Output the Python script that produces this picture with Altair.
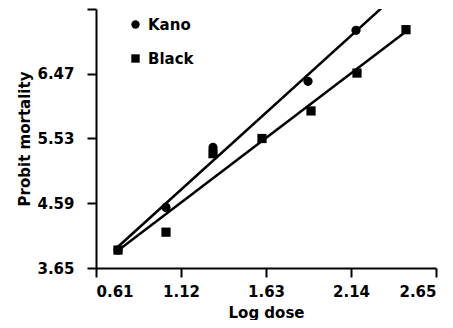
import altair as alt
import pandas as pd

kano_x = [0.742, 1.03, 1.312, 1.882, 2.17]
kano_y = [3.91, 4.53, 5.40, 6.36, 7.10]
black_x = [0.742, 1.03, 1.312, 1.606, 1.90, 2.176, 2.47]
black_y = [3.91, 4.17, 5.31, 5.53, 5.93, 6.48, 7.11]
series = ["Kano", "Black"]
x_ticks = [0.61, 1.12, 1.63, 2.14, 2.65]
y_ticks = [3.65, 4.59, 5.53, 6.47, 7.41]

df = pd.concat([
    pd.DataFrame({"x": kano_x, "y": kano_y, "s": "Kano"}),
    pd.DataFrame({"x": black_x, "y": black_y, "s": "Black"}),
])

FONT = "DejaVu Sans"
FS = 15

xs = alt.Scale(domain=[x_ticks[0], x_ticks[-1]], nice=False, zero=False)
ys = alt.Scale(domain=[y_ticks[0], y_ticks[-1]], nice=False, zero=False)

x_enc = alt.X("x:Q", scale=xs, title="Log dose",
              axis=alt.Axis(values=x_ticks, format=".2f", grid=False))
y_enc = alt.Y("y:Q", scale=ys, title="Probit mortality",
              axis=alt.Axis(values=y_ticks, format=".2f", grid=False,
                            labelExpr="datum.value > 7.4 ? '' : format(datum.value, '.2f')"))

shape = alt.Shape("s:N", scale=alt.Scale(domain=series, range=["circle", "square"]),
                  legend=alt.Legend(title=None, orient="none", legendX=32, legendY=8,
                                    symbolFillColor="black", symbolStrokeColor="black",
                                    symbolSize=70, symbolStrokeWidth=0,
                                    labelFont=FONT, labelFontSize=FS, labelFontWeight="bold",
                                    labelColor="black", rowPadding=18, labelOffset=5))

points = alt.Chart(df).mark_point(filled=True, color="black", size=85, opacity=1).encode(
    x=x_enc, y=y_enc, shape=shape)

lines = alt.Chart(df).transform_regression(
    "x", "y", groupby=["s"], extent=[black_x[0], black_x[-1]]
).mark_line(color="black", strokeWidth=2.5, clip=True).encode(
    x=alt.X("x:Q", scale=xs), y=alt.Y("y:Q", scale=ys), detail="s:N")

chart = alt.layer(lines, points).properties(
    width=340, height=259,
    autosize=alt.AutoSizeParams(type="none"),
    padding={"left": 88, "top": 1, "right": 9, "bottom": 52},
).configure_view(stroke=None).configure_axis(
    domainColor="black", domainWidth=2, tickColor="black", tickWidth=2, tickSize=9,
    labelFont=FONT, labelFontSize=FS, labelFontWeight="bold", labelColor="black",
    titleFont=FONT, titleFontSize=FS, titleFontWeight="bold", titleColor="black",
).configure_axisX(labelPadding=7, titlePadding=6).configure_axisY(
    labelPadding=13, titlePadding=4)

chart.save("out.html", embed_options={"renderer": "svg", "actions": False})
